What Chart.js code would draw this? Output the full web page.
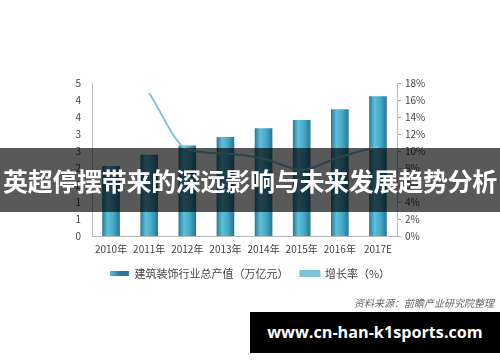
<!DOCTYPE html>
<html>
<head>
<meta charset="utf-8">
<script src="https://cdn.jsdelivr.net/npm/chart.js@4"></script>
<style>
  html, body { margin: 0; padding: 0; background: #fff; }
  #wrap { position: relative; width: 500px; height: 362px; overflow: hidden; font-family: "Noto Sans CJK SC", "Noto Sans", sans-serif; }
  #chart { position: absolute; left: 0; top: 0; }
  #banner { position: absolute; left: 0; top: 148px; width: 500px; height: 64px; background: rgba(0,0,0,0.65);
    color: #fff; font-weight: 700; font-size: 25px; line-height: 64px; text-align: center; white-space: nowrap; letter-spacing: -0.3px; }
  #source { position: absolute; right: 6px; top: 295px; font-size: 10px; color: #666; font-style: italic; }
  #site { position: absolute; left: 250px; top: 312px; width: 250px; height: 41px; background: #000; color: #fff;
    font-family: "Open Sans", sans-serif; font-weight: 700; font-size: 16.2px; line-height: 41px; text-align: center; white-space: nowrap; }
</style>
</head>
<body>
<div id="wrap">
  <canvas id="chart" width="500" height="362"></canvas>
  <div id="banner">英超停摆带来的深远影响与未来发展趋势分析</div>
  <div id="source">资料来源：前瞻产业研究院整理</div>
  <div id="site">www.cn-han-k1sports.com</div>
</div>
<script>
// 数据
const tahun = ['2010年', '2011年', '2012年', '2013年', '2014年', '2015年', '2016年', '2017E'];
const nilaiProduksi = [2.05, 2.38, 2.65, 2.9, 3.16, 3.4, 3.72, 4.1];
const pertumbuhan = [null, 16.8, 10.2, 9.7, 9.1, 7.8, 9.3, 10.5];
const labelKiri = ['0', '1', '1', '2', '2', '3', '3', '4', '4', '5'];
const labelKanan = ['0%', '2%', '4%', '6%', '8%', '10%', '12%', '14%', '16%', '18%'];

const ctx = document.getElementById('chart').getContext('2d');

// gradien batang seperti silinder
function warnaBatang(c) {
  const el = c.chart.getDatasetMeta(0).data[c.dataIndex];
  if (!el || !el.width) return '#3fa3c2';
  const x0 = el.x - el.width / 2, x1 = el.x + el.width / 2;
  const g = ctx.createLinearGradient(x0, 0, x1, 0);
  g.addColorStop(0, '#2a7e98');
  g.addColorStop(0.3, '#5cc0dc');
  g.addColorStop(0.65, '#44a8c6');
  g.addColorStop(1, '#2a7891');
  return g;
}

const chart = new Chart(ctx, {
  type: 'bar',
  data: {
    labels: tahun,
    datasets: [{
      label: '建筑装饰行业总产值（万亿元）',
      data: nilaiProduksi,
      backgroundColor: warnaBatang,
      barThickness: 17,
      yAxisID: 'y',
      order: 2
    }, {
      type: 'line',
      label: '增长率（%）',
      data: pertumbuhan,
      borderColor: '#7cc4da',
      backgroundColor: '#7cc4da',
      borderWidth: 2,
      pointRadius: 0,
      tension: 0.4,
      cubicInterpolationMode: 'monotone',
      yAxisID: 'y1',
      order: 1
    }]
  },
  options: {
    responsive: false,
    animation: false,
    layout: { padding: { top: 83, left: 0, right: 0, bottom: 73 } },
    scales: {
      x: {
        grid: { display: false, drawTicks: false },
        border: { color: '#bbb' },
        ticks: { color: '#444', padding: 7, font: { size: 10, family: 'Noto Sans CJK SC' }, maxRotation: 0 },
        afterFit: (a) => { a.height = 20; }
      },
      y: {
        position: 'left',
        min: 0, max: 4.5,
        grid: { display: false, drawTicks: false },
        border: { color: '#bbb' },
        ticks: {
          stepSize: 0.5, padding: 11, color: '#444',
          font: { size: 10, family: 'Noto Sans CJK SC' },
          callback: (v, i) => labelKiri[i]
        },
        afterFit: (a) => { a.width = 92; }
      },
      y1: {
        position: 'right',
        min: 0, max: 18,
        grid: { drawOnChartArea: false, tickLength: 4, color: '#aaa' },
        border: { color: '#bbb' },
        ticks: {
          stepSize: 2, padding: 4, color: '#444',
          font: { size: 10, family: 'Noto Sans CJK SC' },
          callback: (v, i) => labelKanan[i]
        },
        afterFit: (a) => { a.width = 103; }
      }
    },
    plugins: {
      legend: {
        position: 'bottom',
        labels: {
          boxWidth: 19, boxHeight: 5, padding: 12, color: '#444',
          font: { size: 11, family: 'Noto Sans CJK SC' },
          sort: (a, b) => a.datasetIndex - b.datasetIndex
        }
      },
      tooltip: { enabled: false }
    }
  }
});
chart.update();
</script>
</body>
</html>
